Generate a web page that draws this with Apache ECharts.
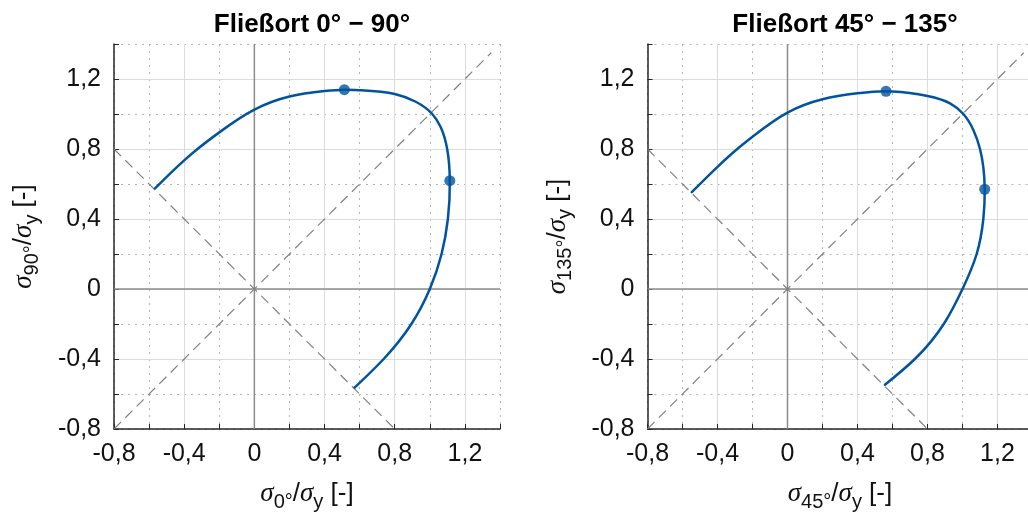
<!DOCTYPE html>
<html>
<head>
<meta charset="utf-8">
<script src="https://cdn.jsdelivr.net/npm/echarts@6/dist/echarts.min.js"></script>
<style>
  html, body { margin: 0; padding: 0; background: #fff; }
  #chart { width: 1028px; height: 519px; }
</style>
</head>
<body>
<div id="chart"></div>
<script>
// Fließort 0° - 90°
const leftX = [-0.566, -0.4, -0.324, -0.2, 0, 0.2, 0.4, 0.513, 0.6, 0.8, 0.92, 1.014, 1.061, 1.099, 1.114, 1.103, 1.067, 1.0, 0.895, 0.737, 0.571];
const leftY = [0.575, 0.735, 0.8, 0.895, 1.025, 1.1, 1.131, 1.139, 1.136, 1.114, 1.07, 1.0, 0.927, 0.8, 0.619, 0.4, 0.2, 0, -0.2, -0.4, -0.564];
const leftMarkX = [0.513, 1.114];
const leftMarkY = [1.139, 0.619];

// Fließort 45° - 135°
const rightX = [-0.547, -0.4, -0.287, -0.2, 0, 0.2, 0.4, 0.563, 0.6, 0.8, 0.929, 1.005, 1.062, 1.1, 1.127, 1.119, 1.081, 1.0, 0.893, 0.728, 0.557];
const rightY = [0.553, 0.698, 0.8, 0.87, 1.008, 1.084, 1.118, 1.13, 1.129, 1.103, 1.061, 1.0, 0.909, 0.8, 0.57, 0.4, 0.2, 0, -0.2, -0.4, -0.547];
const rightMarkX = [0.563, 1.127];
const rightMarkY = [1.13, 0.57];

// Hilfslinien
const diagX = [-0.8, 1.35];
const diagY = [-0.8, 1.35];
const antiX = [-0.8, 0.8];
const antiY = [0.8, -0.8];
const zeroVX = [0, 0];
const zeroVY = [-0.8, 1.4];
const zeroHX = [-0.8, 1.4];
const zeroHY = [0, 0];

const titles = ['Fließort 0° \u2212 90°', 'Fließort 45° \u2212 135°'];
const xNames = ['0°', '45°'];
const yNames = ['90°', '135°'];

const axisMin = -0.8, axisMax = 1.4;
const font = 'Liberation Sans, Arial, sans-serif';
const blue = '#00549F';
const dark = '#262626';

function zip(xs, ys) {
  return xs.map((x, i) => [x, ys[i]]);
}

function fmt(v) {
  if (Math.abs(v - axisMax) < 1e-9) return '';
  if (Math.abs(v) < 1e-9) return '0';
  return v.toFixed(1).replace('.', ',');
}

const rich = {
  s: { fontSize: 27, fontStyle: 'italic', fontFamily: 'Liberation Serif, serif', lineHeight: 36, color: '#111' },
  sub: { fontSize: 20, lineHeight: 16, verticalAlign: 'bottom', fontFamily: font, color: '#111' },
  n: { fontSize: 26, lineHeight: 36, fontFamily: font, color: '#111' }
};

function axisName(sub) {
  return '{s|σ}{sub|' + sub + '}{n|/}{s|σ}{sub|y}{n| [-]}';
}

function mainAxis(g, name, gap) {
  return {
    type: 'value', gridIndex: g, min: axisMin, max: axisMax, interval: 0.4, z: 1,
    name: name, nameLocation: 'middle', nameGap: gap,
    nameTextStyle: { fontSize: 26, lineHeight: 36, rich: rich },
    axisLine: { onZero: false, lineStyle: { color: dark, width: 1.5 } },
    axisTick: { inside: true, length: 5, lineStyle: { color: dark } },
    minorTick: { show: true, splitNumber: 2, length: 5, lineStyle: { color: dark } },
    axisLabel: { formatter: fmt, fontSize: 25, color: '#111', fontFamily: font, margin: 13, showMaxLabel: false },
    splitLine: { show: true, showMinLine: false, showMaxLine: false, lineStyle: { color: '#dcdcdc', width: 1 } }
  };
}

function dotAxis(g) {
  return {
    type: 'value', gridIndex: g, min: axisMin, max: axisMax, interval: 0.2, z: 0,
    axisLine: { show: false }, axisTick: { show: false }, axisLabel: { show: false },
    splitLine: { show: true, lineStyle: { color: '#b4b4b4', width: 1, type: [2, 5] } }
  };
}

function splineDerivs(v, h) {
  const n = v.length;
  const M = new Array(n).fill(0);
  if (n > 2) {
    const a = [], b = [], c = [], r = [];
    for (let i = 1; i < n - 1; i++) {
      a.push(h[i - 1]); b.push(2 * (h[i - 1] + h[i])); c.push(h[i]);
      r.push(6 * ((v[i + 1] - v[i]) / h[i] - (v[i] - v[i - 1]) / h[i - 1]));
    }
    const m = r.length;
    for (let i = 1; i < m; i++) {
      const w = a[i] / b[i - 1];
      b[i] -= w * c[i - 1];
      r[i] -= w * r[i - 1];
    }
    const sol = new Array(m);
    sol[m - 1] = r[m - 1] / b[m - 1];
    for (let i = m - 2; i >= 0; i--) sol[i] = (r[i] - c[i] * sol[i + 1]) / b[i];
    for (let i = 0; i < m; i++) M[i + 1] = sol[i];
  }
  const d0 = [], d1 = [];
  for (let i = 0; i < n - 1; i++) {
    const s = (v[i + 1] - v[i]) / h[i];
    d0.push(s - h[i] * (2 * M[i] + M[i + 1]) / 6);
    d1.push(s + h[i] * (M[i] + 2 * M[i + 1]) / 6);
  }
  return [d0, d1];
}

function splineItem(params, api) {
  if (params.dataIndexInside !== 0) return null;
  const n = params.dataInsideLength;
  const pts = [];
  for (let k = 0; k < n; k++) pts.push(api.coord([api.value(0, k), api.value(1, k)]));
  const h = [];
  for (let k = 0; k < n - 1; k++) h.push(Math.hypot(pts[k + 1][0] - pts[k][0], pts[k + 1][1] - pts[k][1]));
  const dx = splineDerivs(pts.map(p => p[0]), h);
  const dy = splineDerivs(pts.map(p => p[1]), h);
  let path = 'M' + pts[0][0] + ' ' + pts[0][1];
  for (let k = 0; k < n - 1; k++) {
    const t = h[k] / 3;
    path += ' C' + (pts[k][0] + dx[0][k] * t) + ' ' + (pts[k][1] + dy[0][k] * t) + ' ' +
      (pts[k + 1][0] - dx[1][k] * t) + ' ' + (pts[k + 1][1] - dy[1][k] * t) + ' ' +
      pts[k + 1][0] + ' ' + pts[k + 1][1];
  }
  return {
    type: 'path',
    shape: { pathData: path },
    style: { stroke: blue, lineWidth: 2.5, fill: 'none', lineJoin: 'round', lineCap: 'round' }
  };
}

const xAxis = [], yAxis = [], series = [], title = [];
const grid = [
  { left: 114, top: 44, width: 386, height: 385 },
  { left: 647.5, top: 44, width: 385, height: 385 }
];
const curves = [[leftX, leftY, leftMarkX, leftMarkY], [rightX, rightY, rightMarkX, rightMarkY]];

for (let g = 0; g < 2; g++) {
  xAxis.push(mainAxis(g, axisName(xNames[g]), 47));
  yAxis.push(mainAxis(g, axisName(yNames[g]), 72));
  const centre = grid[g].left + grid[g].width / 2;
  title.push({
    text: titles[g], left: centre, top: 7, textAlign: 'center',
    textStyle: { fontSize: 26, fontWeight: 'bold', fontFamily: font, color: '#000' }
  });
}
for (let g = 0; g < 2; g++) {
  xAxis.push(dotAxis(g));
  yAxis.push(dotAxis(g));
}

for (let g = 0; g < 2; g++) {
  const base = { xAxisIndex: g, yAxisIndex: g, type: 'line', symbol: 'none', silent: true, animation: false };
  series.push(Object.assign({}, base, { data: zip(zeroVX, zeroVY), lineStyle: { color: '#8c8c8c', width: 1.5 }, z: 2 }));
  series.push(Object.assign({}, base, { data: zip(zeroHX, zeroHY), lineStyle: { color: '#8c8c8c', width: 1.5 }, z: 2 }));
  series.push(Object.assign({}, base, { data: zip(diagX, diagY), lineStyle: { color: '#808080', width: 1.2, type: [10, 6] }, z: 2 }));
  series.push(Object.assign({}, base, { data: zip(antiX, antiY), lineStyle: { color: '#808080', width: 1.2, type: [10, 6] }, z: 2 }));
  const c = curves[g];
  series.push({
    type: 'custom', xAxisIndex: g, yAxisIndex: g, data: zip(c[0], c[1]),
    encode: { x: 0, y: 1 }, renderItem: splineItem, silent: true, animation: false, z: 3
  });
  series.push({
    type: 'scatter', xAxisIndex: g, yAxisIndex: g, data: zip(c[2], c[3]),
    symbol: 'circle', symbolSize: 11, itemStyle: { color: blue }, silent: true, animation: false, z: 4
  });
}

const chart = echarts.init(document.getElementById('chart'));
chart.setOption({
  animation: false,
  backgroundColor: '#fff',
  title: title,
  grid: grid.map(gr => Object.assign({ outerBoundsMode: 'none', containLabel: false }, gr)),
  xAxis: xAxis,
  yAxis: yAxis,
  series: series
});
</script>
</body>
</html>
